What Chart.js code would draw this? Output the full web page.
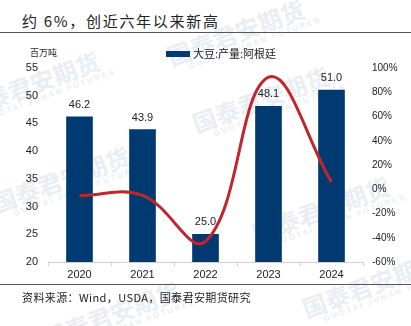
<!DOCTYPE html>
<html>
<head>
<meta charset="utf-8">
<script src="https://cdn.jsdelivr.net/npm/chart.js@4/dist/chart.umd.min.js"></script>
<style>
  html, body { margin: 0; padding: 0; background: #fff; }
  body { width: 411px; height: 326px; position: relative; overflow: hidden;
         font-family: "Noto Sans CJK SC", "Liberation Sans", sans-serif; color: #222; }
  .wm { position: absolute; color: #eaeef3; transform: rotate(-20deg); white-space: nowrap;
        font-weight: bold; font-size: 24px; line-height: 24px; z-index: 0; }
  .wm span { display: block; font-size: 8px; line-height: 9px; letter-spacing: 2px; font-family: "Liberation Sans"; padding-left: 16px; }
  #title { position: absolute; left: 22px; top: 10px; font-size: 15px; letter-spacing: 1.7px; z-index: 2; }
  .rule { position: absolute; height: 1px; background: #555; z-index: 2; }
  #unit { position: absolute; left: 30px; top: 46px; font-size: 9px; z-index: 2; }
  #legend { position: absolute; left: 166px; top: 45px; font-size: 11px; z-index: 2; }
  #legend i { display: inline-block; width: 24px; height: 6px; background: #003a70; vertical-align: middle; margin-right: 3px; position: relative; top: -1px; }
  #wrap { position: absolute; left: 0; top: 40px; width: 411px; height: 245px; z-index: 1; }
  #source { position: absolute; left: 22px; top: 289px; font-size: 11px; letter-spacing: 0.4px; z-index: 2; }
</style>
</head>
<body>
<div class="wm" style="left:-40px;top:70px">国泰君安期货<span>GUOTAI JUNAN FUTURES</span></div>
<div class="wm" style="left:165px;top:18px">国泰君安期货<span>GUOTAI JUNAN FUTURES</span></div>
<div class="wm" style="left:190px;top:85px">国泰君安期货<span>GUOTAI JUNAN FUTURES</span></div>
<div class="wm" style="left:-10px;top:165px">国泰君安期货<span>GUOTAI JUNAN FUTURES</span></div>
<div class="wm" style="left:250px;top:195px">国泰君安期货<span>GUOTAI JUNAN FUTURES</span></div>
<div class="wm" style="left:40px;top:300px">国泰君安期货<span>GUOTAI JUNAN FUTURES</span></div>
<div class="wm" style="left:300px;top:270px">国泰君安期货<span>GUOTAI JUNAN FUTURES</span></div>

<div id="title">约 6%，创近六年以来新高</div>
<div class="rule" style="left:0;top:32px;width:411px"></div>
<div id="unit">百万吨</div>
<div id="legend"><i></i>大豆:产量:阿根廷</div>
<div id="wrap"><canvas id="myChart" width="411" height="245"></canvas></div>
<div class="rule" style="left:0;top:284px;width:411px"></div>
<div id="source">资料来源：Wind，USDA，国泰君安期货研究</div>

<script>
const years = ['2020', '2021', '2022', '2023', '2024'];
const production = [46.2, 43.9, 25.0, 48.1, 51.0];   // 百万吨
const yoy = [-5.3, -5.0, -43.0, 92.4, 6.0];           // %

// value labels above the bars
const barLabels = {
    id: 'barLabels',
    afterDatasetsDraw(chart) {
        const ctx = chart.ctx;
        const meta = chart.getDatasetMeta(1);
        ctx.save();
        ctx.font = '11px "Liberation Sans"';
        ctx.fillStyle = '#222';
        ctx.textAlign = 'center';
        ctx.textBaseline = 'middle';
        meta.data.forEach((bar, i) => {
            ctx.fillText(production[i].toFixed(1), bar.x, bar.y - 12);
        });
        ctx.restore();
    }
};

const ctx = document.getElementById('myChart').getContext('2d');
const myChart = new Chart(ctx, {
    data: {
        labels: years,
        datasets: [{
            type: 'line',
            label: '同比',
            data: yoy,
            yAxisID: 'y1',
            borderColor: '#c0272d',
            borderWidth: 3,
            tension: 0.4,
            pointRadius: 0,
            order: 1
        }, {
            type: 'bar',
            label: '大豆:产量:阿根廷',
            data: production,
            yAxisID: 'y',
            backgroundColor: '#003a70',
            barThickness: 26,
            order: 2
        }]
    },
    options: {
        responsive: false,
        animation: false,
        layout: { padding: { top: 28, left: 0, right: 0, bottom: 0 } },
        plugins: { legend: { display: false }, tooltip: { enabled: false } },
        scales: {
            x: {
                grid: { display: true, drawOnChartArea: false, drawTicks: true, tickLength: 4, color: '#d0d0d0' },
                border: { color: '#d0d0d0' },
                ticks: { color: '#222', font: { family: 'Liberation Sans', size: 11 }, padding: 2 },
                afterFit: s => { s.height = 23; }
            },
            y: {
                position: 'left',
                min: 20, max: 55,
                ticks: { stepSize: 5, color: '#222', font: { family: 'Liberation Sans', size: 11 }, padding: 10 },
                grid: { display: false, drawTicks: false },
                border: { display: false },
                afterFit: s => { s.width = 48; }
            },
            y1: {
                position: 'right',
                min: -60, max: 100,
                ticks: { stepSize: 20, color: '#222', font: { family: 'Liberation Sans', size: 10 }, padding: 9,
                         callback: v => v + '%' },
                grid: { display: false, drawTicks: false },
                border: { display: false },
                afterFit: s => { s.width = 48; }
            }
        }
    },
    plugins: [barLabels]
});
</script>
</body>
</html>
